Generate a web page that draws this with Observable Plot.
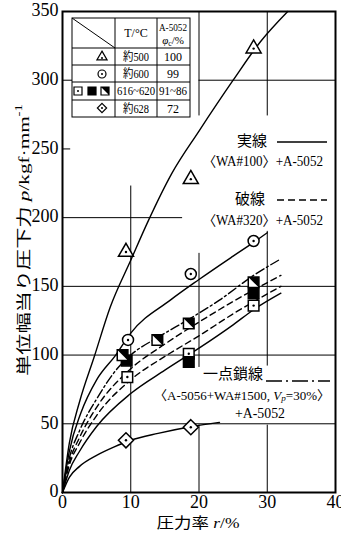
<!DOCTYPE html>
<html><head><meta charset="utf-8">
<script src="https://cdn.jsdelivr.net/npm/d3@7"></script>
<script src="https://cdn.jsdelivr.net/npm/@observablehq/plot@0.6"></script>
<style>html,body{margin:0;padding:0;background:#fff}svg{display:block}</style>
</head><body><div id="chart"></div>
<script>
const FONT = '"Liberation Serif","Noto Sans CJK JP",serif';

// ---- tick labels ----
const xTicks = [0, 10, 20, 30, 40];
const yTicks = [0, 50, 100, 150, 200, 250, 300, 350];

// ---- measured points ----
const triPts = [{x: 9.3, y: 175}, {x: 18.8, y: 228}, {x: 28, y: 323}];          // 約500, φc 100
const circPts = [{x: 9.6, y: 111}, {x: 18.8, y: 159}, {x: 28, y: 183}];         // 約600, φc 99
const sqDotPts = [{x: 9.5, y: 84}, {x: 18.5, y: 101}, {x: 28, y: 136}];         // 616~620
const sqFillPts = [{x: 9.4, y: 96}, {x: 18.5, y: 95}, {x: 28, y: 145}];         // 616~620
const sqHalfPts = [{x: 8.8, y: 100}, {x: 13.9, y: 111}, {x: 18.5, y: 123}, {x: 28, y: 153}]; // 616~620
const diaPts = [{x: 9.3, y: 38}, {x: 18.8, y: 47.5}];                           // 約628, φc 72

// ---- curves ----
const curveSolidA = [[0,0],[1,36],[2.5,66],[4.6,98],[7,135],[10,169],[12.6,198],[16,232],[20,263],[25,300],[29,328],[33,350]];
const curveSolidB = [[0,0],[1,30],[2.7,58],[5,82],[7.8,100],[10,116],[15.8,140],[20,155],[25,172],[28,182],[30,189]];
const curveDashDot = [[0,0],[1,25],[2.5,45],[5,68],[8,90],[10,100],[14,113],[18.5,126],[23,140],[28,158],[32,170]];
const curveDashed1 = [[0,0],[1,22],[2.5,40],[5,62],[10,90],[15,108],[20,124],[25,139],[32,158]];
const curveDashed2 = [[0,0],[1,20],[2.5,36],[5,56],[10,82],[15,99],[20,114],[25,130],[32,150]];
const curveSolidF = [[0,0],[1,16],[2.5,30],[5,48],[10,72],[15,89],[20,105],[25,122],[28,133],[32,145]];
const curveSolidG = [[0,0],[1,11],[2.5,19],[5,27],[7.5,33],[10,38],[14,43],[19,48],[23,51]];

// ---- grid segments (the original drawing has broken grid lines) ----
const gridV = [
  {x: 10, y1: 0, y2: 223},
  {x: 20, y1: 0, y2: 49}, {x: 20, y1: 91, y2: 174}, {x: 20, y1: 274, y2: 350},
  {x: 30, y1: 0, y2: 49}, {x: 30, y1: 92, y2: 190}, {x: 30, y1: 274, y2: 350}
];
const gridH = [
  {y: 50, x1: 0, x2: 40}, {y: 100, x1: 0, x2: 40}, {y: 150, x1: 0, x2: 40},
  {y: 200, x1: 0, x2: 17.6}, {y: 250, x1: 0, x2: 1.2},
  {y: 300, x1: 0, x2: 1.5}, {y: 300, x1: 20, x2: 40}
];

// ---- legend table texts ----
const legendHead = ["T/°C", "A-5052", "φc/%"];
const legendTemp = ["約500", "約600", "616~620", "約628"];
const legendPhi = ["100", "99", "91~86", "72"];

const halfSym = {draw(ctx, size) { const s = Math.sqrt(size) / 2; ctx.moveTo(-s, -s); ctx.lineTo(s, -s); ctx.lineTo(s, s); ctx.closePath(); }};
const toObj = a => a.map(([x, y]) => ({x, y}));
const DASH = "6,4", DASHDOT = "9,3,2,3";

const chart = Plot.plot({
  width: 341, height: 535,
  marginLeft: 62, marginRight: 6, marginTop: 11, marginBottom: 43,
  style: {fontFamily: FONT, background: "#fff", color: "#000"},
  x: {domain: [0, 40]},
  y: {domain: [0, 350]},
  marks: [
    Plot.ruleX(gridV, {x: "x", y1: "y1", y2: "y2", stroke: "#000", strokeWidth: 1}),
    Plot.ruleY(gridH, {y: "y", x1: "x1", x2: "x2", stroke: "#000", strokeWidth: 1}),
    Plot.line(toObj(curveSolidA), {x: "x", y: "y", curve: "monotone-x", stroke: "#000", strokeWidth: 1.4}),
    Plot.line(toObj(curveSolidB), {x: "x", y: "y", curve: "monotone-x", stroke: "#000", strokeWidth: 1.4}),
    Plot.line(toObj(curveDashDot), {x: "x", y: "y", curve: "monotone-x", stroke: "#000", strokeWidth: 1.4, strokeDasharray: DASHDOT}),
    Plot.line(toObj(curveDashed1), {x: "x", y: "y", curve: "monotone-x", stroke: "#000", strokeWidth: 1.4, strokeDasharray: DASH}),
    Plot.line(toObj(curveDashed2), {x: "x", y: "y", curve: "monotone-x", stroke: "#000", strokeWidth: 1.4, strokeDasharray: DASH}),
    Plot.line(toObj(curveSolidF), {x: "x", y: "y", curve: "monotone-x", stroke: "#000", strokeWidth: 1.4}),
    Plot.line(toObj(curveSolidG), {x: "x", y: "y", curve: "monotone-x", stroke: "#000", strokeWidth: 1.4}),
    Plot.dot(triPts, {x: "x", y: "y", symbol: "triangle", r: 5.6, fill: "#fff", stroke: "#000", strokeWidth: 1.5}),
    Plot.dot(circPts, {x: "x", y: "y", symbol: "circle", r: 5.5, fill: "#fff", stroke: "#000", strokeWidth: 1.5}),
    Plot.dot(sqDotPts, {x: "x", y: "y", symbol: "square", r: 6, fill: "#fff", stroke: "#000", strokeWidth: 1.5}),
    Plot.dot(sqFillPts, {x: "x", y: "y", symbol: "square", r: 6, fill: "#000", stroke: "#000", strokeWidth: 1.5}),
    Plot.dot(sqHalfPts, {x: "x", y: "y", symbol: "square", r: 6, fill: "#fff", stroke: "#000", strokeWidth: 1.5}),
    Plot.dot(sqHalfPts, {x: "x", y: "y", symbol: halfSym, r: 6, fill: "#000", stroke: "none"}),
    Plot.dot(diaPts, {x: "x", y: "y", symbol: "diamond2", r: 6.8, fill: "#fff", stroke: "#000", strokeWidth: 1.5}),
    Plot.dot([...triPts, ...circPts, ...sqDotPts, ...diaPts], {x: "x", y: "y", r: 1.2, fill: "#000", stroke: "none"}),
    Plot.frame({stroke: "#000", strokeWidth: 2}),
    Plot.axisX(xTicks, {tickSize: 0, tickPadding: 3, fontSize: 18, label: null}),
    Plot.axisY(yTicks, {tickSize: 0, tickPadding: 4, fontSize: 18, dy: -1, label: null})
  ]
});
document.getElementById("chart").appendChild(chart);

// ---------- overlays: titles, annotations, legend table ----------
const svg = d3.select(chart);
const g = svg.append("g").attr("font-family", FONT).attr("fill", "#000");

function rich(x, y, parts, {size = 14, anchor = "middle", len = null, rotate = null} = {}) {
  const t = g.append("text").attr("x", x).attr("y", y).attr("font-size", size)
    .attr("text-anchor", anchor).attr("dominant-baseline", "central");
  if (rotate != null) t.attr("transform", `rotate(${rotate},${x},${y})`);
  let shift = 0;
  for (const p of parts) {
    const s = t.append("tspan").text(p.t);
    if (p.i) s.attr("font-style", "italic");
    const target = p.sub ? 0.25 : p.sup ? -0.4 : 0;
    if (target !== shift) { s.attr("dy", (target - shift) * size); shift = target; }
    if (p.sub || p.sup) s.attr("font-size", size * 0.7);
  }
  if (len) t.attr("textLength", len).attr("lengthAdjust", "spacingAndGlyphs");
  return t;
}
function seg(x1, y1, x2, y2, dash, w = 1.4) {
  const l = g.append("line").attr("x1", x1).attr("y1", y1).attr("x2", x2).attr("y2", y2)
    .attr("stroke", "#000").attr("stroke-width", w);
  if (dash) l.attr("stroke-dasharray", dash);
}

// axis titles
rich(24, 240, [{t: "単位幅当り圧下力 "}, {t: "p", i: true}, {t: "/kgf·mm"}, {t: "-1", sup: true}],
  {size: 15, rotate: -90, len: 272});
rich(198, 523, [{t: "圧力率 "}, {t: "r", i: true}, {t: "/%"}], {size: 15, len: 83});

// annotations
rich(252, 141, [{t: "実線"}], {size: 15});
seg(277, 142, 327, 142, null);
rich(263, 161, [{t: "〈WA#100〉+A-5052"}], {size: 14, len: 120});
rich(250, 199, [{t: "破線"}], {size: 15});
seg(277, 200, 327, 200, "7,4");
rich(263, 220, [{t: "〈WA#320〉+A-5052"}], {size: 14, len: 120});
rich(233, 374, [{t: "一点鎖線"}], {size: 15});
seg(266, 381, 330, 381, "16,4,2,4");
rich(242, 395, [{t: "〈A-5056+WA#1500, "}, {t: "V", i: true}, {t: "p", i: true, sub: true}, {t: "=30%〉"}], {size: 13});
rich(260, 413, [{t: "+A-5052"}], {size: 14, len: 50});

// legend table
const cols = [72, 115, 157, 190], rows = [18, 48, 65, 82, 100, 117];
const tb = g.append("g").attr("stroke", "#000").attr("stroke-width", 1).attr("fill", "none");
tb.append("rect").attr("x", cols[0]).attr("y", rows[0]).attr("width", cols[3] - cols[0]).attr("height", rows[5] - rows[0]).attr("fill", "#fff");
for (const c of cols.slice(1, 3)) tb.append("line").attr("x1", c).attr("x2", c).attr("y1", rows[0]).attr("y2", rows[5]);
for (const r of rows.slice(1, 5)) tb.append("line").attr("x1", cols[0]).attr("x2", cols[3]).attr("y1", r).attr("y2", r);
tb.append("line").attr("x1", cols[0]).attr("y1", rows[0]).attr("x2", cols[1]).attr("y2", rows[1]);
rich(136, 33, [{t: legendHead[0]}], {size: 12});
rich(173, 27, [{t: legendHead[1]}], {size: 11, len: 28});
rich(173, 40, [{t: "φ", i: true}, {t: "c", sub: true}, {t: "/%"}], {size: 11});
const tempLen = [26, 26, 38, 26], phiLen = [null, null, 28, null];
legendTemp.forEach((s, i) => {
  const cy = (rows[i + 1] + rows[i + 2]) / 2;
  rich(136, cy, [{t: s}], {size: 12, len: tempLen[i]});
  rich(173, cy, [{t: legendPhi[i]}], {size: 12, len: phiLen[i]});
});
function sym(type, x, y, size, fill, stroke) {
  g.append("path").attr("d", d3.symbol(type, size)()).attr("transform", `translate(${x},${y})`)
    .attr("fill", fill).attr("stroke", stroke).attr("stroke-width", 1.2);
}
function dot(x, y) { g.append("circle").attr("cx", x).attr("cy", y).attr("r", 1).attr("fill", "#000"); }
sym(d3.symbolTriangle, 102, 57, 45, "#fff", "#000"); dot(102, 58);
sym(d3.symbolCircle, 102, 74, 50, "#fff", "#000"); dot(102, 74);
sym(d3.symbolSquare, 78, 91, 64, "#fff", "#000"); dot(78, 91);
sym(d3.symbolSquare, 92, 91, 64, "#000", "#000");
sym(d3.symbolSquare, 105, 91, 64, "#fff", "#000");
sym(halfSym, 105, 91, 64, "#000", "none");
sym(d3.symbolDiamond2, 102, 108, 55, "#fff", "#000"); dot(102, 108);
</script>
</body></html>
